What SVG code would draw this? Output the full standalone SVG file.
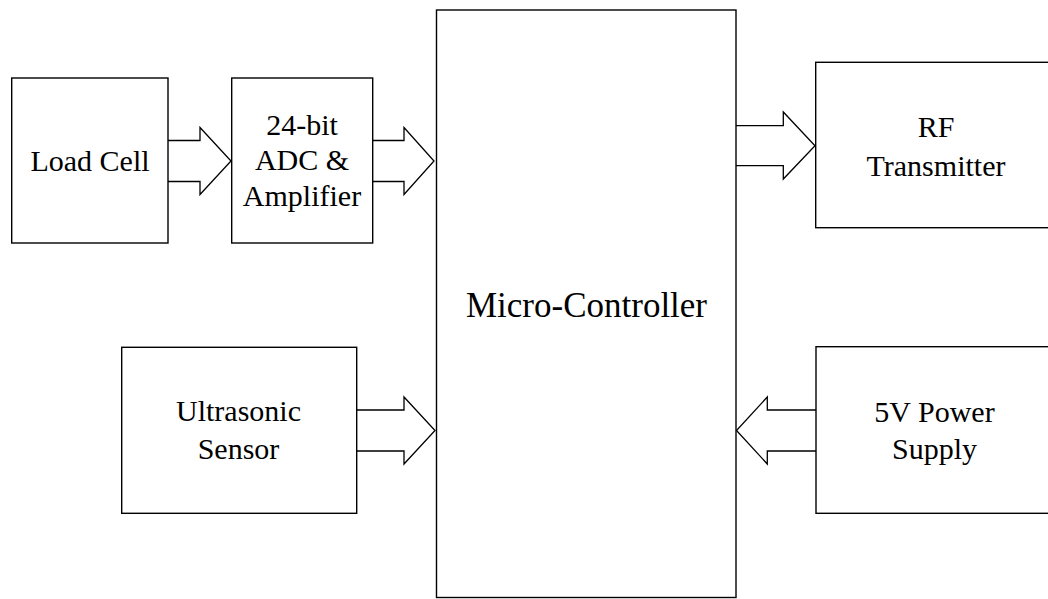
<svg xmlns="http://www.w3.org/2000/svg" width="1048" height="599" viewBox="0 0 1048 599">
<style>
.box{fill:#fff;stroke:#000;stroke-width:1.4}
.arr{fill:#fff;stroke:#000;stroke-width:1.3;stroke-linejoin:miter}
.t{font-family:"Liberation Serif","Times New Roman",serif;font-size:30px;fill:#000;text-anchor:middle}
.big{font-size:35px}
</style>
<rect width="1048" height="599" fill="#fff"/>
<g id="connectors">
<polyline class="arr" points="168,140.5 200,140.5 200,127.5 231,161 200,194.5 200,181.5 168,181.5"/>
<polyline class="arr" points="372.7,140.5 404,140.5 404,127.5 434,161 404,194.5 404,181.5 372.7,181.5"/>
<polyline class="arr" points="736,125.7 783.3,125.7 783.3,112 815,145.7 783.3,179 783.3,165.7 736,165.7"/>
<polyline class="arr" points="356.7,410 404,410 404,397 435,430.5 404,464 404,451 356.7,451"/>
<polyline class="arr" points="816,410 767.3,410 767.3,397 736.5,430.5 767.3,464 767.3,451 816,451"/>
</g>
<g id="load-cell">
<rect class="box" x="11.7" y="78" width="156.3" height="165"/>
<text class="t" x="90" y="171">Load Cell</text>
</g>
<g id="adc">
<rect class="box" x="231.7" y="78" width="141" height="165"/>
<text class="t" x="302" y="135">24-bit</text>
<text class="t" x="302" y="170">ADC &amp;</text>
<text class="t" x="302" y="206">Amplifier</text>
</g>
<g id="micro-controller">
<rect class="box" x="436.5" y="10" width="299.5" height="587.5"/>
<text class="t big" x="586.5" y="316.5">Micro-Controller</text>
</g>
<g id="rf-transmitter">
<rect class="box" x="815.7" y="62.3" width="250" height="165.4"/>
<text class="t" x="936" y="136.5">RF</text>
<text class="t" x="936" y="176">Transmitter</text>
</g>
<g id="ultrasonic-sensor">
<rect class="box" x="121.7" y="347.3" width="235" height="166"/>
<text class="t" x="238.5" y="420.7">Ultrasonic</text>
<text class="t" x="238.5" y="459.3">Sensor</text>
</g>
<g id="power-supply">
<rect class="box" x="816" y="346.7" width="250" height="166.6"/>
<text class="t" x="934.5" y="421.7">5V Power</text>
<text class="t" x="934.5" y="458.5">Supply</text>
</g>
</svg>
